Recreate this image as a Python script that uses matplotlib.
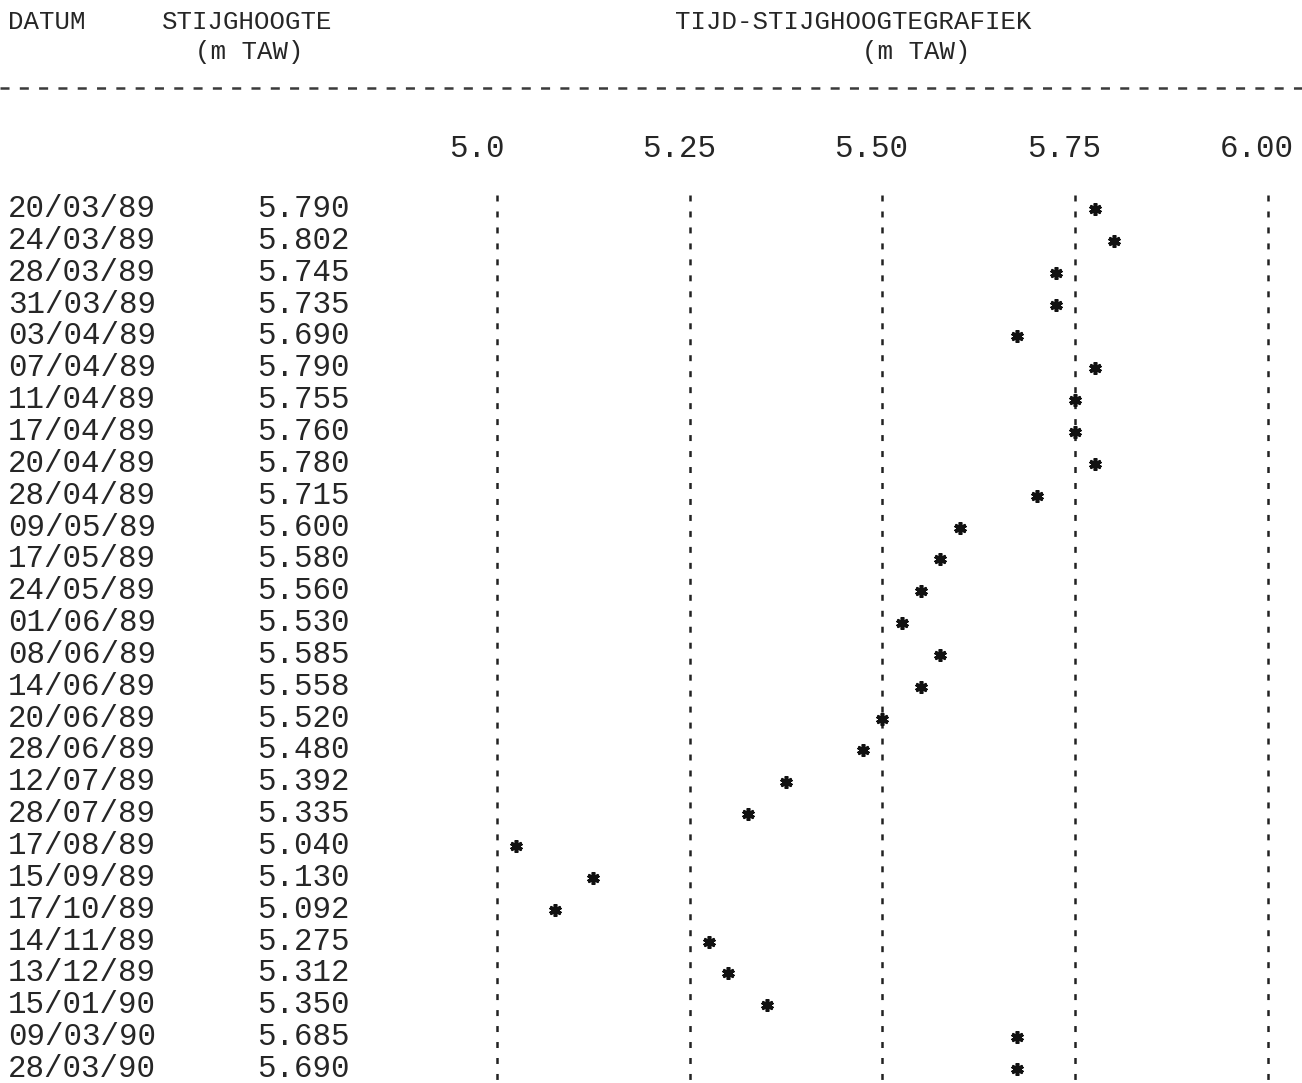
import numpy as np
import matplotlib
matplotlib.use("Agg")
from matplotlib import pyplot as plt
from matplotlib.lines import Line2D

plt.rcParams['font.family'] = ['Liberation Mono', 'DejaVu Sans Mono']
plt.rcParams['lines.scale_dashes'] = False

# data
dates = ["20/03/89", "24/03/89", "28/03/89", "31/03/89", "03/04/89", "07/04/89",
         "11/04/89", "17/04/89", "20/04/89", "28/04/89", "09/05/89", "17/05/89",
         "24/05/89", "01/06/89", "08/06/89", "14/06/89", "20/06/89", "28/06/89",
         "12/07/89", "28/07/89", "17/08/89", "15/09/89", "17/10/89", "14/11/89",
         "13/12/89", "15/01/90", "09/03/90", "28/03/90"]
levels = [5.790, 5.802, 5.745, 5.735, 5.690, 5.790, 5.755, 5.760, 5.780, 5.715,
          5.600, 5.580, 5.560, 5.530, 5.585, 5.558, 5.520, 5.480, 5.392, 5.335,
          5.040, 5.130, 5.092, 5.275, 5.312, 5.350, 5.685, 5.690]
ticks = [5.0, 5.25, 5.5, 5.75, 6.0]
tick_labels = ["5.0", "5.25", "5.50", "5.75", "6.00"]

W, H = 1302, 1083
fig = plt.figure(figsize=(W / 100, H / 100), dpi=100)
ink = '#262626'
fs = 22.2      # body text (10 cpi)
fs_head = 18.5   # header text is printed at a finer pitch

def fx(px):
    return px / W

def fy(py):
    return 1 - py / H

# chart axes cover whole figure; 5.0 -> 497px, 6.0 -> 1268px; rows every 31.85px from 209px
ppm = 1268 - 497
row0, drow = 209, 31.85
ax = fig.add_axes([0, 0, 1, 1])
x0 = 5.0 - 497 / ppm
ax.set_xlim(x0, 5.0 + (W - 497) / ppm)
ax.set_ylim((H - row0) / drow, -row0 / drow)
ax.axis('off')

# header
fig.text(fx(8), fy(29), "DATUM", fontsize=fs_head, color=ink, va='baseline')
fig.text(fx(162), fy(29), "STIJGHOOGTE", fontsize=fs_head, color=ink, va='baseline')
fig.text(fx(195), fy(59), "(m TAW)", fontsize=fs_head, color=ink, va='baseline')
fig.text(fx(675), fy(29), "TIJD-STIJGHOOGTEGRAFIEK", fontsize=fs_head, color=ink, va='baseline')
fig.text(fx(862), fy(59), "(m TAW)", fontsize=fs_head, color=ink, va='baseline')
fig.add_artist(Line2D([0, 1], [fy(88), fy(88)], transform=fig.transFigure,
                      color='#3a3a3a', lw=1.8, dashes=(6.5, 7.4)))

# tick labels (printed left of each gridline)
for t, lab in zip(ticks, tick_labels):
    ax.text(t - 48 / ppm, (157 - row0) / drow, lab, fontsize=fs, color=ink, va='baseline')

# gridlines
ax.vlines(ticks, -0.45, (H - row0) / drow, colors='#222222', lw=1.8,
          linestyles=(0, (4.3, 7.2)))

# rows
rows = np.arange(len(dates))
for i, (d, v) in enumerate(zip(dates, levels)):
    ax.text(x0 + 8 / ppm, i + 8 / drow, d, fontsize=fs, color=ink, va='baseline')
    ax.text(x0 + 257 / ppm, i + 8 / drow, f"{v:.3f}", fontsize=fs, color=ink, va='baseline')

# printer places the star on a 0.025 m character cell (floored)
plot_x = np.floor(np.round(np.array(levels) / 0.025, 6)) * 0.025
ax.plot(plot_x, rows, linestyle='none', marker=(6, 2, 0), markersize=9,
        markeredgewidth=2.6, color='#111111')

fig.savefig("out.png", dpi=100)
